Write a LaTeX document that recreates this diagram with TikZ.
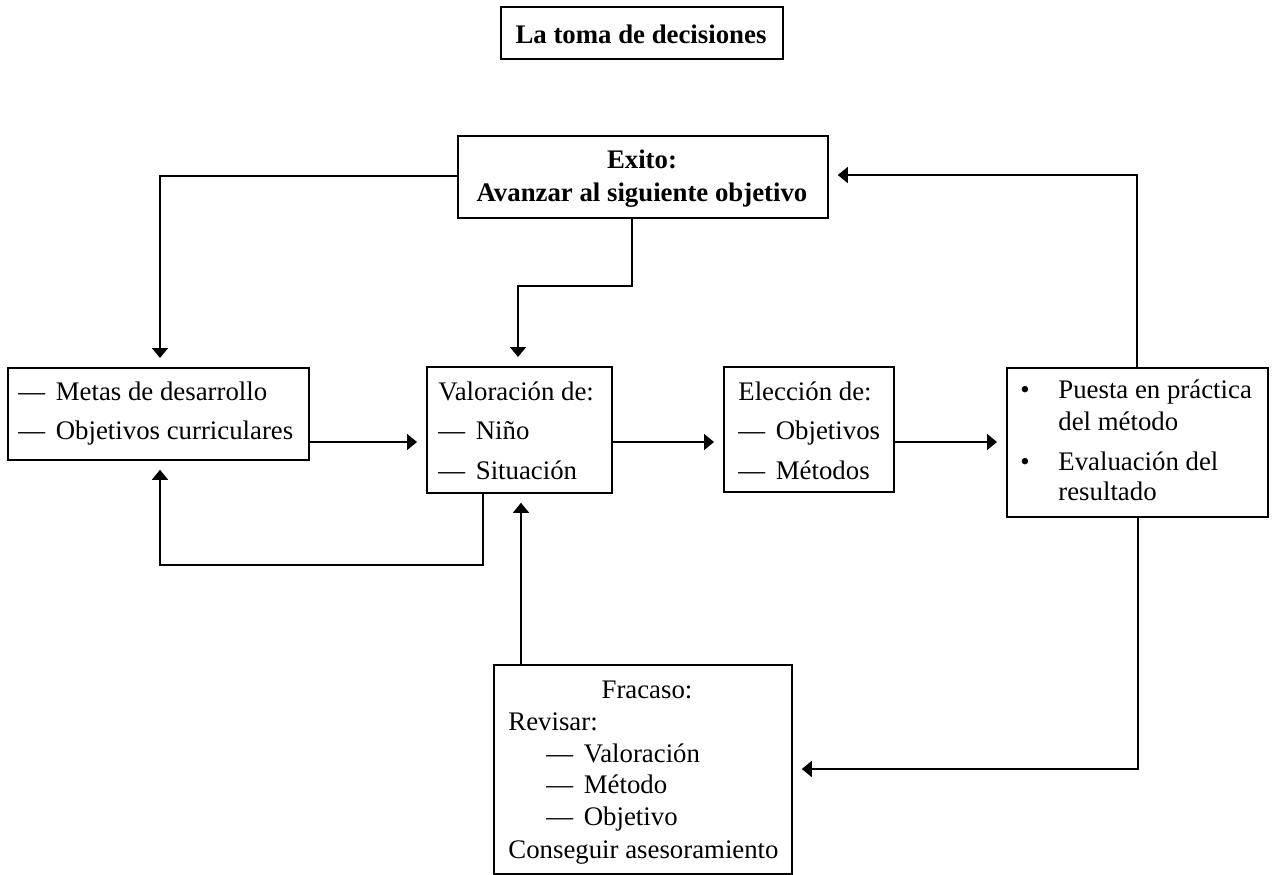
\documentclass[tikz,border=0pt]{standalone}
\usepackage{fontspec}
\setmainfont{Liberation Serif}
\usetikzlibrary{arrows.meta}

\begin{document}
\begin{tikzpicture}[x=0.5pt,y=-0.5pt,
  font=\fontsize{13.4}{16}\selectfont,
  box/.style={draw, line width=0.9pt, inner sep=0pt, anchor=north west},
  txt/.style={inner sep=0pt, anchor=base west},
  ctxt/.style={inner sep=0pt, anchor=base},
  arr/.style={line width=0.8pt, -{Triangle[length=5pt,width=8pt]}, shorten >=4.5pt},
  ln/.style={line width=0.8pt}]
\useasboundingbox (0,0) rectangle (1276,874);
\newcommand{\dsh}{---\hspace{0.4em}}

% title
\node[box, minimum width=141pt, minimum height=26pt] (title) at (500,6) {};
\node[ctxt, font=\fontsize{13.4}{16}\selectfont\bfseries] (titletxt) at (641,43) {La toma de decisiones};

% success box
\node[box, minimum width=185pt, minimum height=41pt] (exito) at (457,135) {};
\node[ctxt, font=\fontsize{13.4}{16}\selectfont\bfseries] (exito1) at (642,168) {Exito:};
\node[ctxt, font=\fontsize{13.4}{16}\selectfont\bfseries] (exito2) at (642,201) {Avanzar al siguiente objetivo};

% goals box
\node[box, minimum width=150.5pt, minimum height=46pt] (metas) at (7,367) {};
\node[txt] (metas1) at (18,400) {\dsh Metas de desarrollo};
\node[txt] (metas2) at (18,439) {\dsh Objetivos curriculares};

% assessment box
\node[box, minimum width=92.5pt, minimum height=63pt] (valor) at (426,366) {};
\node[txt] (valor1) at (438,400) {Valoración de:};
\node[txt] (valor2) at (438,439) {\dsh Niño};
\node[txt] (valor3) at (438,479) {\dsh Situación};

% choice box
\node[box, minimum width=85pt, minimum height=62.5pt] (elec) at (723,366) {};
\node[txt] (elec1) at (738,400) {Elección de:};
\node[txt] (elec2) at (738,439) {\dsh Objetivos};
\node[txt] (elec3) at (738,479) {\dsh Métodos};

% practice box
\node[box, minimum width=130.5pt, minimum height=74.5pt] (puesta) at (1006,367) {};
\node[txt] (pb1) at (1020,398) {•};
\node[txt] (puesta1) at (1058,398) {Puesta en práctica};
\node[txt] (puesta2) at (1058,430) {del método};
\node[txt] (pb2) at (1020,470) {•};
\node[txt] (puesta3) at (1058,470) {Evaluación del};
\node[txt] (puesta4) at (1058,500) {resultado};

% failure box
\node[box, minimum width=149pt, minimum height=104.5pt] (fracaso) at (493,664) {};
\node[ctxt] (fr1) at (647,698) {Fracaso:};
\node[txt] (fr2) at (508,730) {Revisar:};
\node[txt] (fr3) at (546,762) {\dsh Valoración};
\node[txt] (fr4) at (546,793) {\dsh Método};
\node[txt] (fr5) at (546,825) {\dsh Objetivo};
\node[txt] (fr6) at (508,858) {Conseguir asesoramiento};

% connectors
\draw[arr] (exito.west |- 0,176) -| (metas.north -| 160,0);
\draw[arr] (exito.south -| 632,0) -- ++(0,67) -| (valor.north -| 518,0);
\draw[arr] (metas.east |- 0,442) -- (valor.west |- 0,442);
\draw[arr] (valor.south -| 483,0) -- ++(0,71) -| (metas.south -| 160,0);
\draw[arr] (valor.east |- 0,442) -- (elec.west |- 0,442);
\draw[arr] (elec.east |- 0,442) -- (puesta.west |- 0,442);
\draw[arr] (puesta.north -| 1137,0) |- (exito.east |- 0,175);
\draw[arr] (puesta.south -| 1138,0) |- (fracaso.east |- 0,769);
\draw[arr] (fracaso.north -| 521,0) -- (valor.south -| 521,0);
\end{tikzpicture}
\end{document}
